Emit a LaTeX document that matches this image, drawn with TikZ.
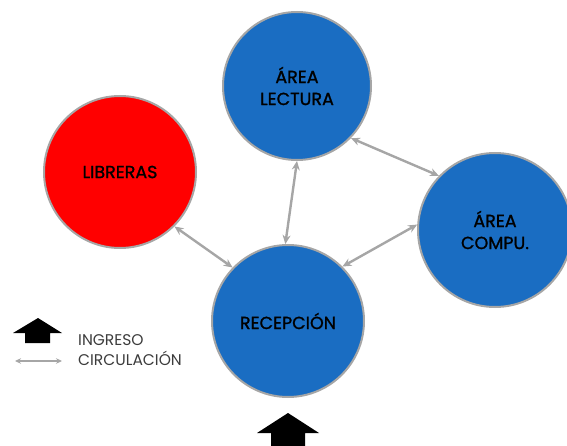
\documentclass[tikz,border=0pt]{standalone}
\usepackage{fontspec}
\setmainfont{Poppins}
\newfontfamily\zonefont{Poppins}[FakeBold=1.2]
\usetikzlibrary{arrows.meta}
\definecolor{zblue}{HTML}{1A6DC2}
\definecolor{zred}{HTML}{FF0000}
\definecolor{zgray}{HTML}{A6A6A6}
\definecolor{ztext}{HTML}{3C3C3C}
\tikzset{
  zone/.style={circle, draw=zgray, line width=2pt, inner sep=0pt, minimum size=#1,
    align=center, font=\zonefont\fontsize{17.5}{22}\selectfont, text=black},
  flow/.style={draw=zgray, line width=2.4pt, {Stealth[length=9pt,width=8pt]}-{Stealth[length=9pt,width=8pt]}},
  entry/.style={fill=black, draw=none},
  legend/.style={anchor=west, font=\fontsize{15.5}{16}\selectfont, text=ztext, inner sep=0pt}
}
\begin{document}
\begin{tikzpicture}[x=1pt,y=-1pt]
\useasboundingbox (0,0) rectangle (567,446);
\node[zone=148pt, fill=zblue] (lec) at (297,86) {ÁREA\\LECTURA};
\node[zone=152pt, fill=zred] (lib) at (120,172) {LIBRERAS};
\node[zone=154pt, fill=zblue] (com) at (495,230) {ÁREA\\COMPU.};
\node[zone=152pt, fill=zblue] (rec) at (288,321) {RECEPCIÓN};
\draw[flow] (lec.-90) -- (rec.92);
\draw[flow] (lib.-45) -- (rec.136);
\draw[flow] (rec.45) -- (com.176);
\draw[flow] (lec.-44) -- (com.136);
% entry arrow bottom
\coordinate (ent) at (288,413);
\fill[entry] (ent) -- ++(31,20) -- ++(-14,0) -- ++(0,15) -- ++(-34,0) -- ++(0,-15) -- ++(-14,0) -- cycle;
% legend
\coordinate (lgarrow) at (38,318);
\fill[entry] (lgarrow) -- ++(24,15) -- ++(-12,0) -- ++(0,10) -- ++(-25,0) -- ++(0,-10) -- ++(-12,0) -- cycle;
\coordinate (lga) at (15,361);
\coordinate (lgb) at (62,361);
\draw[draw=zgray, line width=1.6pt, {Stealth[length=6pt,width=5.5pt]}-{Stealth[length=6pt,width=5.5pt]}] (lga) -- (lgb);
\node[legend] (ing) at (78,340) {INGRESO};
\node[legend] (cir) at (78,358) {CIRCULACIÓN};
\end{tikzpicture}
\end{document}
